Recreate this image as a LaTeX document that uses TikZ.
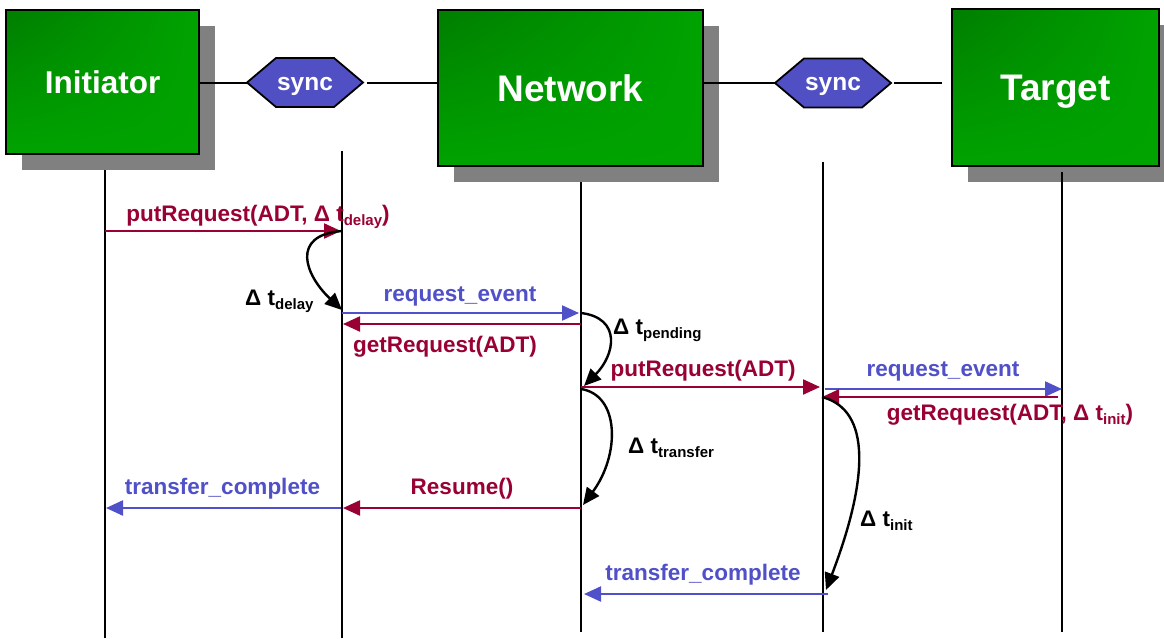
\documentclass[tikz,border=0pt]{standalone}
\usepackage{fontspec}
\setmainfont{Liberation Sans}
\usetikzlibrary{arrows.meta,backgrounds,shadings}
\definecolor{maroon}{RGB}{153,0,51}
\definecolor{msgblue}{RGB}{80,80,200}
\definecolor{syncblue}{RGB}{80,80,196}
\definecolor{boxdark}{RGB}{0,126,0}
\definecolor{boxlight}{RGB}{0,163,0}
\definecolor{shadowgray}{RGB}{128,128,128}
\newcommand\lsub[1]{\raisebox{-4pt}{\fontsize{15}{16}\selectfont #1}}
\begin{document}
\begin{tikzpicture}[x=1pt,y=-1pt,
  actor/.style={draw=black, line width=2pt, shade, upper left=boxdark, upper right=boxlight,
    lower left=boxlight, lower right=boxlight, text=white, inner sep=0pt, outer sep=0pt, text depth=0pt},
  syncnode/.style={minimum width=116pt, minimum height=49pt, inner sep=0pt, outer sep=0pt,
    text=white, font=\bfseries\fontsize{24.5}{26}\selectfont, text height=15pt, text depth=0pt},
  syncshape/.style={draw=black, line width=1.8pt, fill=syncblue, line join=miter},
  shadowbox/.style={fill=shadowgray},
  link/.style={draw=black, line width=2pt},
  lifeline/.style={draw=black, line width=2pt},
  msg/.style={line width=2.2pt, -{Triangle[length=17pt,width=15pt]}},
  delay/.style={draw=black, line width=2.4pt, -{Triangle[length=17pt,width=15pt]}},
  lbl/.style={inner sep=0pt, anchor=base, font=\bfseries\fontsize{22.5}{26}\selectfont},
  dlbl/.style={inner sep=0pt, anchor=base west, text=black, font=\bfseries\fontsize{22.5}{26}\selectfont}
]
\useasboundingbox (0,0) rectangle (1164,638);

% boxes
\node[actor, minimum width=193pt, minimum height=144pt, font=\bfseries\fontsize{31.5}{34}\selectfont] (ini) at (102.5,82) {Initiator};
\node[actor, minimum width=265pt, minimum height=156pt, font=\bfseries\fontsize{37}{40}\selectfont] (net) at (570.5,88) {Network};
\node[actor, minimum width=207pt, minimum height=157pt, font=\bfseries\fontsize{37}{40}\selectfont] (tgt) at (1055.5,87.5) {Target};

% sync nodes
\node[syncnode] (s1) at (305,82.5) {sync};
\node[syncnode] (s2) at (833,83) {sync};

\begin{scope}[on background layer]
  \fill[white] (0,0) rectangle (1164,638);
  \foreach \b in {ini,net,tgt}{
    \fill[shadowbox] ([shift={(16,16)}]\b.north west) rectangle ([shift={(16,16)}]\b.south east);
  }
  \foreach \s in {s1,s2}{
    \draw[syncshape] (\s.west) -- ([xshift=29pt]\s.north west) -- ([xshift=-29pt]\s.north east)
      -- (\s.east) -- ([xshift=-29pt]\s.south east) -- ([xshift=29pt]\s.south west) -- cycle;
  }
\end{scope}

% links between boxes and sync
\draw[link] (s1.west -| ini.east) -- (s1.west);
\draw[link, shorten <=4pt] (s1.east) -- (s1.east -| net.west);
\draw[link] (s2.west -| net.east) -- (s2.west);
\draw[link, shorten <=3pt, shorten >=10pt] (s2.east) -- (s2.east -| tgt.west);

% lifelines
\coordinate (L1t) at (105,170);  \coordinate (L1b) at (105,638);
\coordinate (L2t) at (342,151);  \coordinate (L2b) at (342,638);
\coordinate (L3t) at (581,182);  \coordinate (L3b) at (581,632);
\coordinate (L4t) at (823,162);  \coordinate (L4b) at (823,632);
\coordinate (L5t) at (1062,172); \coordinate (L5b) at (1062,632);
\foreach \i in {1,...,5}{ \draw[lifeline] (L\i t) -- (L\i b); }

% message end points
\coordinate (m1s) at (105,231);  \coordinate (m1e) at (341,231);
\coordinate (m2s) at (342,313);  \coordinate (m2e) at (579,313);
\coordinate (m3s) at (581,324);  \coordinate (m3e) at (343,324);
\coordinate (m4s) at (581,387);  \coordinate (m4e) at (820,387);
\coordinate (m5s) at (825,389);  \coordinate (m5e) at (1062,389);
\coordinate (m6s) at (1058,397); \coordinate (m6e) at (822,397);
\coordinate (m7s) at (581,508);  \coordinate (m7e) at (343,508);
\coordinate (m8s) at (341,508);  \coordinate (m8e) at (106,508);
\coordinate (m9s) at (828,594);  \coordinate (m9e) at (584,594);

\draw[msg, maroon] (m1s) -- (m1e);
\draw[msg, msgblue] (m2s) -- (m2e);
\draw[msg, maroon] (m3s) -- (m3e);
\draw[msg, maroon] (m4s) -- (m4e);
\draw[msg, msgblue] (m5s) -- (m5e);
\draw[msg, maroon] (m6s) -- (m6e);
\draw[msg, maroon] (m7s) -- (m7e);
\draw[msg, msgblue] (m8s) -- (m8e);
\draw[msg, msgblue] (m9s) -- (m9e);

% delay curves
\coordinate (d1s) at (342,231); \coordinate (d1e) at (342,310);
\coordinate (d2s) at (581,313); \coordinate (d2e) at (584,386);
\coordinate (d3s) at (581,389); \coordinate (d3e) at (583,505);
\coordinate (d4s) at (822,397); \coordinate (d4e) at (826,590);
\draw[delay] (d1s) .. controls (290,235) and (305,275) .. (d1e);
\draw[delay] (d2s) .. controls (622,318) and (615,355) .. (d2e);
\draw[delay] (d3s) .. controls (620,395) and (620,455) .. (d3e);
\draw[delay] (d4s) .. controls (872,410) and (868,480) .. (d4e);

% message labels
\node[lbl, text=maroon] (l1) at (258,221) {putRequest(ADT, Δ t\lsub{delay})};
\node[lbl, text=msgblue] (l2) at (460,301) {request\_event};
\node[lbl, text=maroon] (l3) at (445,352) {getRequest(ADT)};
\node[lbl, text=maroon] (l4) at (703,376) {putRequest(ADT)};
\node[lbl, text=msgblue] (l5) at (943,376) {request\_event};
\node[lbl, text=maroon] (l6) at (1010,420) {getRequest(ADT, Δ t\lsub{init})};
\node[lbl, text=maroon] (l7) at (462,494) {Resume()};
\node[lbl, text=msgblue] (l8) at (222.5,494) {transfer\_complete};
\node[lbl, text=msgblue] (l9) at (703,580) {transfer\_complete};

% delay labels
\node[dlbl] (dl1) at (245,305) {Δ t\lsub{delay}};
\node[dlbl] (dl2) at (613,334) {Δ t\lsub{pending}};
\node[dlbl] (dl3) at (628,453) {Δ t\lsub{transfer}};
\node[dlbl] (dl4) at (860,526) {Δ t\lsub{init}};
\end{tikzpicture}
\end{document}
